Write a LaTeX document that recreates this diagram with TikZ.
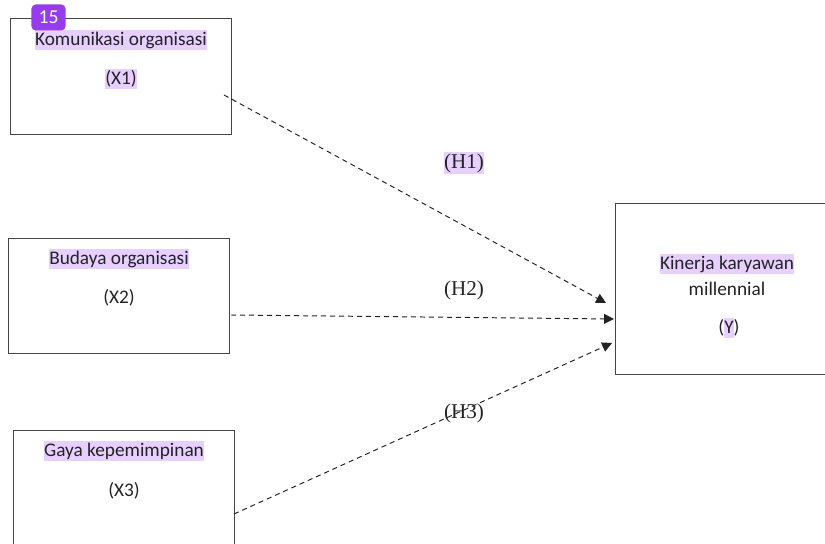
\documentclass[tikz,border=0pt]{standalone}
\usepackage{fontspec}
\setmainfont{Carlito}
\newfontfamily\timesfont{Liberation Serif}
\usetikzlibrary{arrows.meta}

\definecolor{hl}{RGB}{231,208,255}
\definecolor{badge}{RGB}{150,60,235}
\definecolor{ink}{RGB}{35,35,35}

% highlight behind a piece of text
\newcommand{\hlmark}[1]{\setbox0\hbox{#1}\rlap{\color{hl}\rule[-0.24em]{\wd0}{1.02em}}\box0}

\tikzset{
  varbox/.style={draw=ink!85, line width=0.7pt, minimum width=5.5cm, minimum height=2.875cm},
  vartext/.style={font=\fontsize{13.7}{16}\selectfont, text=ink, inner sep=0pt},
  hyptext/.style={font=\timesfont\fontsize{15}{17}\selectfont, text=ink, inner sep=0pt},
  hyparrow/.style={-{Triangle[length=7pt,width=7pt]}, line width=0.7pt, dash pattern=on 3.6pt off 2.8pt, draw=ink}
}

\begin{document}
\begin{tikzpicture}[x=0.025cm, y=-0.025cm]
\useasboundingbox (0,0) rectangle (825,544);
\clip (0,0) rectangle (825,544);

% Variable boxes
\node[varbox] (x1) at (121,76.5) {};
\node[varbox] (x2) at (119,296) {};
\node[varbox] (x3) at (124,488.5) {};
\node[varbox, minimum width=5.55cm, minimum height=4.25cm] (y) at (727,289) {};

% Box texts
\node[vartext] (x1name) at (121,40) {\hlmark{Komunikasi organisasi}};
\node[vartext] (x1code) at (121,79) {\hlmark{(X1)}};
\node[vartext] (x2name) at (119,259) {\hlmark{Budaya organisasi}};
\node[vartext] (x2code) at (119,298) {(X2)};
\node[vartext] (x3name) at (124,451) {\hlmark{Gaya kepemimpinan}};
\node[vartext] (x3code) at (124,491) {(X3)};
\node[vartext] (yname) at (727,264) {\hlmark{Kinerja karyawan}};
\node[vartext] (ygroup) at (727,289) {millennial};
\node[vartext] (ycode) at (729,328) {(\hlmark{Y})};

% Connector ends
\coordinate (s1) at (224,95);
\coordinate (s2) at (231,315);
\coordinate (s3) at (234,514);
\coordinate (e1) at (606,303);
\coordinate (e2) at (614,319);
\coordinate (e3) at (612,343);

% Hypotheses
\draw[hyparrow] (s1) -- (e1);
\draw[hyparrow] (s2) -- (e2);
\draw[hyparrow] (s3) -- (e3);

\node[hyptext] (h1) at (464,163) {\hlmark{(H1)}};
\node[hyptext] (h2) at (464,290) {(H2)};
\node[hyptext] (h3) at (464,413) {(H3)};

% Page badge
\node[fill=badge, rounded corners=3pt, minimum width=0.85cm, minimum height=0.65cm, inner sep=0pt,
      text=white, font=\fontsize{14}{16}\selectfont] (badge) at (48.5,17.5) {15};

\end{tikzpicture}
\end{document}
